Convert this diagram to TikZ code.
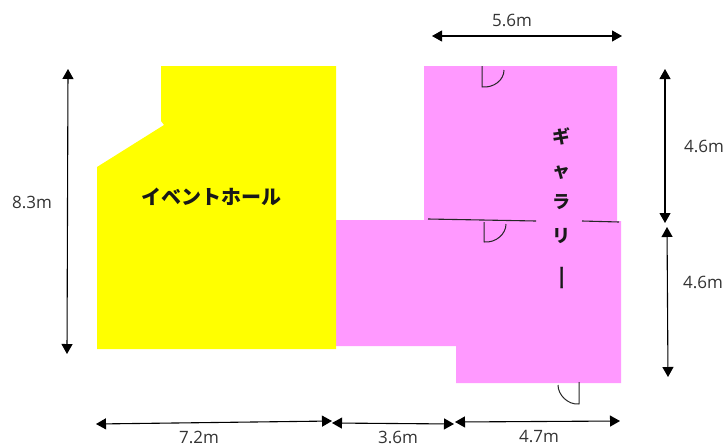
\documentclass[tikz,border=0pt]{standalone}
\usepackage{fontspec}
\setmainfont{Open Sans}
\newfontfamily\cjk{Noto Sans CJK JP}
\usetikzlibrary{arrows.meta}
\definecolor{hallyellow}{HTML}{FFFF00}
\definecolor{gallerypink}{HTML}{FF99FF}
\tikzset{
    dimline/.style={{Triangle[length=10pt,width=11pt]}-{Triangle[length=10pt,width=11pt]},line width=1.1pt,black},
    dimlabel/.style={font=\fontsize{17}{17}\selectfont,text=black!80,inner sep=0pt},
    wall/.style={line width=1.1pt,black!85},
    door/.style={line width=1pt,black!85,line join=round},
    roomlabel/.style={font=\fontsize{20}{20}\cjk\bfseries,inner sep=0pt,text=black!90},
    gallabel/.style={roomlabel,font=\fontsize{18}{18}\cjk\bfseries}
}
\begin{document}
\begin{tikzpicture}[x=1pt,y=-1pt]
    \useasboundingbox (0,0) rectangle (727,447);

    \fill[gallerypink] (424,66) -- (617,66) -- (617,221) -- (621,221) -- (621,383)
        -- (456,383) -- (456,346) -- (336,346) -- (336,220) -- (424,220) -- cycle;
    \fill[hallyellow] (161,66) -- (336,66) -- (336,349) -- (97,349) -- (97,167)
        -- (164,125) -- (161,121) -- cycle;

    \node[roomlabel] (hall) at (211,197) {イベントホール};
    \node[gallabel] (gal1) at (561,136) {ギ};
    \node[gallabel] (gal2) at (561,173) {ャ};
    \node[gallabel] (gal3) at (561,202) {ラ};
    \node[gallabel] (gal4) at (561,236) {リ};
    \node[roomlabel,font=\fontsize{27}{27}\cjk,rotate=90] (gal5) at (567,278) {ー};

    % inner walls
    \coordinate (w1) at (428,219);
    \coordinate (w2) at (536,221);
    \coordinate (w3) at (582,221);
    \coordinate (w4) at (619,222);
    \draw[wall] (w1) -- (w2);
    \draw[wall] (w3) -- (w4);

    % doors
    \coordinate (d1a) at (482,66);
    \coordinate (d1b) at (482,87);
    \coordinate (d1c) at (504,70);
    \coordinate (d2a) at (484,222);
    \coordinate (d2b) at (484,242);
    \coordinate (d2c) at (506,224);
    \coordinate (d3a) at (579,382);
    \coordinate (d3b) at (579,404);
    \coordinate (d3c) at (558,385);
    \draw[door] (d1a) -- (d1b) .. controls (494,88) and (504,80) .. (d1c);
    \draw[door] (d2a) -- (d2b) .. controls (496,243) and (506,234) .. (d2c);
    \draw[door] (d3a) -- (d3b) .. controls (568,405) and (558,395) .. (d3c);

    % dimensions
    \coordinate (top1) at (432,36);
    \coordinate (top2) at (622,36);
    \coordinate (right1) at (665,69);
    \coordinate (right2) at (665,223);
    \coordinate (right3) at (667,227);
    \coordinate (right4) at (668,377);
    \coordinate (left1) at (68,69);
    \coordinate (left2) at (67,354);
    \coordinate (bot1) at (96,424);
    \coordinate (bot2) at (332,421);
    \coordinate (bot3) at (332,423);
    \coordinate (bot4) at (454,424);
    \coordinate (bot5) at (455,422);
    \coordinate (bot6) at (620,421);
    \draw[dimline] (top1) -- (top2);
    \draw[dimline] (right1) -- (right2);
    \draw[dimline] (right3) -- (right4);
    \draw[dimline] (left1) -- (left2);
    \draw[dimline] (bot1) -- (bot2);
    \draw[dimline] (bot3) -- (bot4);
    \draw[dimline] (bot5) -- (bot6);

    \node[dimlabel] (ltop) at (512,20) {5.6m};
    \node[dimlabel] (lr1) at (704,146) {4.6m};
    \node[dimlabel] (lr2) at (703,282) {4.6m};
    \node[dimlabel] (ll) at (32,202) {8.3m};
    \node[dimlabel] (lb1) at (199,437) {7.2m};
    \node[dimlabel] (lb2) at (398,437) {3.6m};
    \node[dimlabel] (lb3) at (539,437) {4.7m};
\end{tikzpicture}
\end{document}
